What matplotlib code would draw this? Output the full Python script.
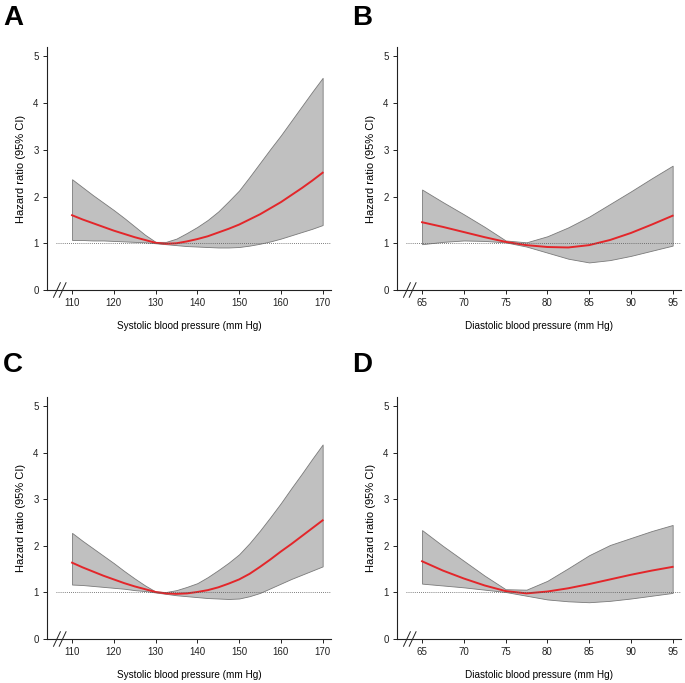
import matplotlib
matplotlib.use("Agg")
import matplotlib.pyplot as plt

plt.rcParams['font.family'] = ['Liberation Sans', 'DejaVu Sans']

# ---- data ----
sbp_x = [110, 112.5, 115, 117.5, 120, 122.5, 125, 127.5, 130, 132.5, 135, 137.5, 140,
         142.5, 145, 147.5, 150, 152.5, 155, 157.5, 160, 162.5, 165, 167.5, 170]
dbp_x = [65, 67.5, 70, 72.5, 75, 77.5, 80, 82.5, 85, 87.5, 90, 92.5, 95]

a_hr = [1.60, 1.51, 1.43, 1.35, 1.27, 1.20, 1.13, 1.07, 1.01, 0.99, 1.00, 1.04, 1.09,
        1.15, 1.23, 1.31, 1.40, 1.51, 1.62, 1.75, 1.88, 2.03, 2.18, 2.34, 2.51]
a_up = [2.37, 2.20, 2.03, 1.87, 1.71, 1.54, 1.36, 1.18, 1.03, 1.03, 1.10, 1.22, 1.35,
        1.50, 1.68, 1.90, 2.13, 2.42, 2.72, 3.02, 3.31, 3.62, 3.93, 4.24, 4.54]
a_lo = [1.07, 1.07, 1.06, 1.06, 1.05, 1.04, 1.03, 1.02, 1.00, 0.98, 0.96, 0.94, 0.93,
        0.92, 0.91, 0.91, 0.92, 0.95, 0.99, 1.04, 1.10, 1.17, 1.24, 1.31, 1.39]

b_hr = [1.45, 1.35, 1.24, 1.13, 1.03, 0.96, 0.92, 0.91, 0.96, 1.07, 1.22, 1.40, 1.59]
b_up = [2.15, 1.88, 1.62, 1.35, 1.06, 1.02, 1.15, 1.34, 1.57, 1.84, 2.11, 2.39, 2.66]
b_lo = [0.98, 1.03, 1.06, 1.05, 1.02, 0.93, 0.80, 0.67, 0.59, 0.64, 0.73, 0.84, 0.95]

c_hr = [1.64, 1.54, 1.45, 1.36, 1.28, 1.20, 1.13, 1.07, 1.01, 0.98, 0.97, 0.98, 1.01,
        1.05, 1.11, 1.19, 1.28, 1.40, 1.55, 1.71, 1.88, 2.04, 2.21, 2.38, 2.55]
c_up = [2.28, 2.11, 1.95, 1.79, 1.63, 1.46, 1.30, 1.15, 1.02, 1.01, 1.05, 1.12, 1.20,
        1.33, 1.48, 1.64, 1.82, 2.06, 2.33, 2.62, 2.92, 3.24, 3.55, 3.87, 4.18]
c_lo = [1.17, 1.16, 1.14, 1.12, 1.10, 1.08, 1.05, 1.03, 1.00, 0.97, 0.94, 0.92, 0.90,
        0.88, 0.87, 0.86, 0.87, 0.92, 0.99, 1.09, 1.19, 1.29, 1.38, 1.47, 1.56]

d_hr = [1.67, 1.47, 1.30, 1.15, 1.03, 0.98, 1.02, 1.09, 1.18, 1.28, 1.38, 1.47, 1.55]
d_up = [2.34, 2.00, 1.68, 1.36, 1.07, 1.06, 1.25, 1.52, 1.80, 2.02, 2.17, 2.32, 2.45]
d_lo = [1.19, 1.15, 1.11, 1.06, 1.01, 0.93, 0.85, 0.81, 0.79, 0.82, 0.87, 0.93, 0.99]

sbp_ticks = [110, 120, 130, 140, 150, 160, 170]
dbp_ticks = [65, 70, 75, 80, 85, 90, 95]
y_ticks = [0, 1, 2, 3, 4, 5]

panels = [
    ("A", sbp_x, a_hr, a_up, a_lo, sbp_ticks, (104, 172), "Systolic blood pressure (mm Hg)"),
    ("B", dbp_x, b_hr, b_up, b_lo, dbp_ticks, (62, 96), "Diastolic blood pressure (mm Hg)"),
    ("C", sbp_x, c_hr, c_up, c_lo, sbp_ticks, (104, 172), "Systolic blood pressure (mm Hg)"),
    ("D", dbp_x, d_hr, d_up, d_lo, dbp_ticks, (62, 96), "Diastolic blood pressure (mm Hg)"),
]

W, H = 685, 683
fig = plt.figure(figsize=(W / 100, H / 100), dpi=100)

# axes rectangles in pixels: left, top, right, bottom
rects = [(47, 47, 331, 290), (397, 47, 681, 290), (47, 397, 331, 639), (397, 397, 681, 639)]
letter_pos = [(3, 5), (352, 5), (3, 352), (352, 352)]

for (letter, x, hr, up, lo, ticks, xlim, xlabel), (l, t, r, b), (lx, ly) in zip(panels, rects, letter_pos):
    ax = fig.add_axes([l / W, 1 - b / H, (r - l) / W, (b - t) / H])
    ax.fill_between(x, lo, up, facecolor="#c0c0c0", edgecolor="#7a7a7a", linewidth=0.6)
    ax.plot(x, hr, color="#e3262a", linewidth=1.4)
    ax.axhline(1, xmin=0.03, xmax=1, color="#555555", linestyle=(0, (1, 1.5)), linewidth=0.6)
    ax.set_xlim(*xlim)
    ax.set_ylim(0, 5.2)
    ax.set_xticks(ticks)
    ax.set_yticks(y_ticks)
    ax.tick_params(axis="both", labelsize=7, length=3, width=0.7, colors="#222222",
                   direction="out", pad=3)
    for s in ("top", "right"):
        ax.spines[s].set_visible(False)
    for s in ("left", "bottom"):
        ax.spines[s].set_linewidth(0.8)
        ax.spines[s].set_color("#222222")
    ax.set_ylabel("Hazard ratio (95% CI)", fontsize=8, labelpad=5)
    ax.set_xlabel(xlabel, fontsize=7.2, labelpad=9)
    # axis break marks
    for dx in (0.035, 0.055):
        ax.plot([dx - 0.012, dx + 0.012], [-0.03, 0.03], transform=ax.transAxes,
                color="#222222", linewidth=0.7, clip_on=False)
    fig.text(lx / W, 1 - ly / H, letter, fontsize=20, fontweight="bold", va="top", ha="left")

fig.savefig("out.png", dpi=100)
